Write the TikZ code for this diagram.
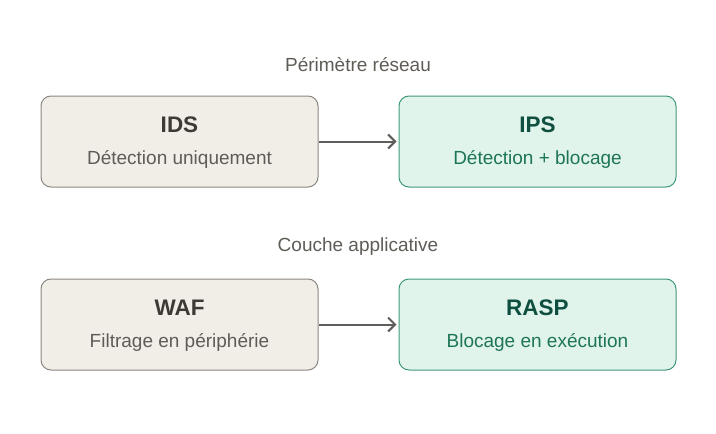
\documentclass[tikz,border=0pt]{standalone}
\usepackage{fontspec}
\setmainfont{Liberation Sans}
\usetikzlibrary{arrows.meta}
\definecolor{sandfill}{HTML}{F1EEE8}
\definecolor{sanddraw}{HTML}{8C8781}
\definecolor{sandtitle}{HTML}{3D3A35}
\definecolor{sandtext}{HTML}{5F5C57}
\definecolor{mintfill}{HTML}{E1F4EC}
\definecolor{mintdraw}{HTML}{3F9A78}
\definecolor{minttitle}{HTML}{0F4F3F}
\definecolor{minttext}{HTML}{1D7557}
\definecolor{arrowgray}{HTML}{5F5E5A}
\tikzset{
  sandbox/.style={draw=sanddraw, fill=sandfill, line width=1pt, rounded corners=10pt,
    minimum width=277pt, minimum height=91pt},
  mintbox/.style={draw=mintdraw, fill=mintfill, line width=1pt, rounded corners=10pt,
    minimum width=277pt, minimum height=91pt},
  boxtitle/.style={font=\fontsize{22.5}{26}\selectfont\bfseries},
  boxtext/.style={font=\fontsize{19}{22}\selectfont},
  caption/.style={font=\fontsize{19}{22}\selectfont, text=sandtext},
  flow/.style={->, >={Straight Barb[length=7pt,width=14pt,line width=2pt]}, arrowgray, line width=2pt}
}
\begin{document}
\begin{tikzpicture}[x=1pt,y=-1pt]
  \useasboundingbox (0,0) rectangle (716,434);

  % reseau
  \node[caption] (capnet) at (358,65) {Périmètre réseau};
  \node[sandbox] (ids) at (179.5,141.5) {};
  \node[mintbox] (ips) at (537.5,141.5) {};
  \node[boxtitle, text=sandtitle] (idst) at (179.5,125) {IDS};
  \node[boxtext, text=sandtext] (idss) at (179.5,159) {Détection uniquement};
  \node[boxtitle, text=minttitle] (ipst) at (537.5,125) {IPS};
  \node[boxtext, text=minttext] (ipss) at (537.5,159) {Détection + blocage};
  \draw[flow] (ids.east) -- ([xshift=-2pt]ips.west);

  % applicatif
  \node[caption] (capapp) at (358,247) {Couche applicative};
  \node[sandbox] (waf) at (179.5,324.5) {};
  \node[mintbox] (rasp) at (537.5,324.5) {};
  \node[boxtitle, text=sandtitle] (waft) at (179.5,308) {WAF};
  \node[boxtext, text=sandtext] (wafs) at (179.5,342) {Filtrage en périphérie};
  \node[boxtitle, text=minttitle] (raspt) at (537.5,308) {RASP};
  \node[boxtext, text=minttext] (rasps) at (537.5,342) {Blocage en exécution};
  \draw[flow] (waf.east) -- ([xshift=-2pt]rasp.west);
\end{tikzpicture}
\end{document}
